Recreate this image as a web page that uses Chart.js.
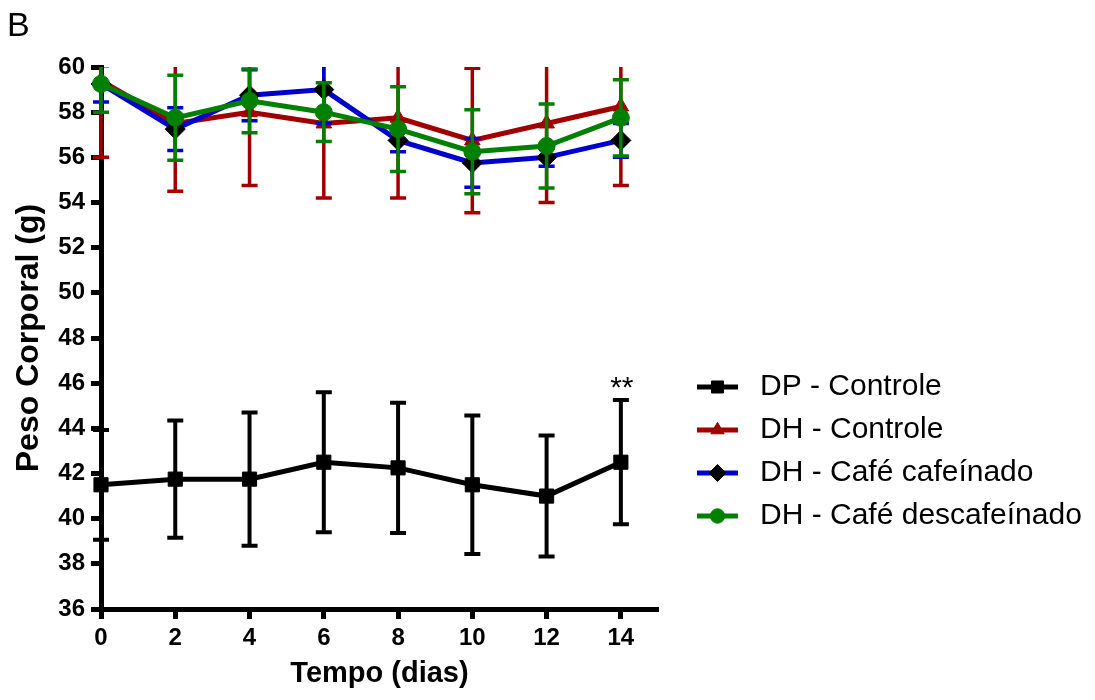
<!DOCTYPE html>
<html><head><meta charset="utf-8">
<script src="https://cdn.jsdelivr.net/npm/chart.js@4.4.1/dist/chart.umd.min.js"></script>
<style>html,body{margin:0;padding:0;background:#fff;}#wrap{width:1095px;height:700px;}</style>
</head><body><div id="wrap"><canvas id="c" width="1095" height="700"></canvas></div>
<script>
// ---- data ----
const days = [0, 2, 4, 6, 8, 10, 12, 14];
const xTicks = [0, 2, 4, 6, 8, 10, 12, 14];
const yTicks = [36, 38, 40, 42, 44, 46, 48, 50, 52, 54, 56, 58, 60];
const seriesNames = ['DP - Controle', 'DH - Controle', 'DH - Café cafeínado', 'DH - Café descafeínado'];
const dpControle = [41.5, 41.75, 41.75, 42.5, 42.25, 41.5, 41.0, 42.5];
const dpControleErr = [2.43, 2.6, 2.95, 3.1, 2.88, 3.07, 2.68, 2.75];
const dhControle = [59.4, 57.5, 58.0, 57.5, 57.75, 56.75, 57.5, 58.25];
const dhControleErr = [3.4, 3.0, 3.25, 3.3, 3.55, 3.2, 3.5, 3.5];
const dhCafeinado = [59.25, 57.25, 58.75, 59.0, 56.75, 55.75, 56.0, 56.75];
const dhCafeinadoErr = [0.8, 0.95, 1.13, 1.5, 0.5, 1.08, 0.4, 0.75];
const dhDescafeinado = [59.25, 57.75, 58.5, 58.0, 57.25, 56.25, 56.5, 57.75];
const dhDescafeinadoErr = [1.25, 1.88, 1.41, 1.3, 1.88, 1.86, 1.86, 1.69];
const panelLetter = 'B';
const yTitle = 'Peso Corporal (g)';
const xTitle = 'Tempo (dias)';
const annotations = [{ series: 0, day: 14, text: '**' }];

const FONT = "'Liberation Sans', Arial, Helvetica, sans-serif";
const pts = (vals) => days.map((d, i) => ({ x: d, y: vals[i] }));

function ds(label, vals, errs, color, style, radius, pointColor, order) {
  return {
    label, data: pts(vals), errors: errs,
    borderColor: color, backgroundColor: color, borderWidth: 5,
    pointStyle: style, pointRadius: radius, pointHoverRadius: radius,
    pointBackgroundColor: pointColor, pointBorderColor: pointColor, pointBorderWidth: 1,
    errColor: color, errWidth: color === '#000000' ? 4 : 3.5,
    tension: 0, clip: false, order
  };
}

const datasets = [
  ds(seriesNames[0], dpControle, dpControleErr, '#000000', 'rect', 10, '#000000', 3),
  ds(seriesNames[1], dhControle, dhControleErr, '#A00000', 'triangle', 9, '#A00000', 2),
  ds(seriesNames[2], dhCafeinado, dhCafeinadoErr, '#0000CC', 'rectRot', 10, '#000000', 1),
  ds(seriesNames[3], dhDescafeinado, dhDescafeinadoErr, '#008000', 'circle', 8.5, '#008000', 0)
];

const errorBars = {
  id: 'errorBars',
  beforeDatasetDraw(chart, args) {
    const d = chart.data.datasets[args.index];
    const xs = chart.scales.x, ys = chart.scales.y, a = chart.chartArea;
    const ctx = chart.ctx;
    ctx.save();
    ctx.beginPath();
    ctx.rect(0, a.top, chart.width, a.bottom - a.top);
    ctx.clip();
    ctx.strokeStyle = d.errColor;
    ctx.lineWidth = d.errWidth;
    ctx.lineCap = 'butt';
    const cap = 8;
    d.data.forEach((p, i) => {
      const e = d.errors[i];
      const x = xs.getPixelForValue(p.x);
      const yt = ys.getPixelForValue(p.y + e);
      const yb = ys.getPixelForValue(p.y - e);
      ctx.beginPath();
      ctx.moveTo(x, yt); ctx.lineTo(x, yb);
      ctx.moveTo(x - cap, yt); ctx.lineTo(x + cap, yt);
      ctx.moveTo(x - cap, yb); ctx.lineTo(x + cap, yb);
      ctx.stroke();
    });
    ctx.restore();
  }
};

const extras = {
  id: 'extras',
  afterDraw(chart) {
    const ctx = chart.ctx;
    const xs = chart.scales.x, ys = chart.scales.y;
    ctx.save();
    // panel letter
    ctx.fillStyle = '#000';
    ctx.font = '34px ' + FONT;
    ctx.textAlign = 'left';
    ctx.textBaseline = 'alphabetic';
    ctx.fillText(panelLetter, 7, 36);
    // annotations
    ctx.font = '30px ' + FONT;
    ctx.textAlign = 'center';
    annotations.forEach(an => {
      const d = chart.data.datasets[an.series];
      const i = days.indexOf(an.day);
      const y = ys.getPixelForValue(d.data[i].y + d.errors[i]);
      ctx.fillText(an.text, xs.getPixelForValue(an.day) + 1, y - 3);
    });
    // legend
    const x0 = 697, x1 = 738, tx = 760, y0 = 387, dy = 43;
    chart.data.datasets.forEach((d, k) => {
      const y = y0 + dy * k;
      ctx.strokeStyle = d.borderColor;
      ctx.lineWidth = 5;
      ctx.beginPath(); ctx.moveTo(x0, y); ctx.lineTo(x1, y); ctx.stroke();
      ctx.fillStyle = d.pointBackgroundColor;
      ctx.strokeStyle = d.pointBorderColor;
      ctx.lineWidth = 1;
      Chart.helpers.drawPoint(ctx, {
        pointStyle: d.pointStyle, radius: d.pointRadius * 0.85, rotation: 0, borderWidth: 1
      }, (x0 + x1) / 2, y);
      ctx.fillStyle = '#000';
      ctx.font = '30px ' + FONT;
      ctx.textAlign = 'left';
      ctx.textBaseline = 'middle';
      ctx.fillText(d.label, tx, y);
    });
    ctx.restore();
  }
};

new Chart(document.getElementById('c'), {
  type: 'line',
  data: { datasets },
  plugins: [errorBars, extras],
  options: {
    responsive: false, animation: false, devicePixelRatio: 1,
    layout: { padding: { top: 67, right: 437, left: 0, bottom: 0 } },
    plugins: { legend: { display: false }, tooltip: { enabled: false } },
    scales: {
      x: {
        type: 'linear', min: 0, max: 15,
        afterBuildTicks: s => { s.ticks = xTicks.map(v => ({ value: v })); },
        afterFit: s => { s.height = 91; },
        ticks: { color: '#000', font: { family: FONT, size: 24, weight: 'bold' }, padding: 5, maxRotation: 0 },
        grid: { display: true, drawOnChartArea: false, drawTicks: true, tickLength: 10, tickWidth: 5, tickColor: '#000' },
        border: { display: true, color: '#000', width: 5 },
        title: { display: true, text: xTitle, color: '#000', font: { family: FONT, size: 29, weight: 'bold' }, padding: { top: 0, bottom: 9 } }
      },
      y: {
        type: 'linear', min: 36, max: 60,
        afterBuildTicks: s => { s.ticks = yTicks.map(v => ({ value: v })); },
        afterFit: s => { s.width = 101; },
        ticks: { color: '#000', font: { family: FONT, size: 24, weight: 'bold' }, padding: 6 },
        grid: { display: true, drawOnChartArea: false, drawTicks: true, tickLength: 10, tickWidth: 5, tickColor: '#000' },
        border: { display: true, color: '#000', width: 5 },
        title: { display: true, text: yTitle, color: '#000', font: { family: FONT, size: 32, weight: 'bold' }, padding: { top: 10, bottom: 0 } }
      }
    }
  }
});
</script></body></html>
